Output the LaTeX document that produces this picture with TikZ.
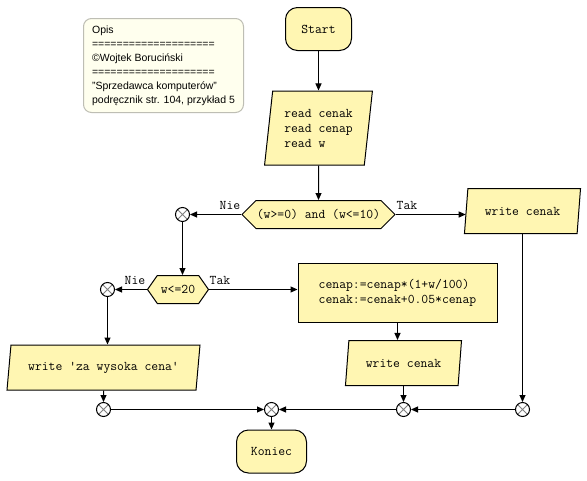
\documentclass[tikz,border=0pt]{standalone}
\usepackage{fontspec}
\setmainfont{Liberation Sans}
\usetikzlibrary{shapes.geometric}
\usetikzlibrary{shapes.symbols}
\usetikzlibrary{arrows.meta}

\definecolor{boxfill}{RGB}{255,246,178}
\definecolor{notefill}{RGB}{255,255,238}
\definecolor{notedraw}{RGB}{190,190,180}

\begin{document}
\begin{tikzpicture}[x=1pt,y=-1pt,line width=1pt,font=\ttfamily\fontsize{13.3}{15}\selectfont,
  >={Triangle[length=7pt,width=6pt]},
  term/.style={draw,fill=boxfill,rounded corners=12pt,minimum width=66pt,minimum height=43pt,inner sep=0pt},
  io/.style={draw,fill=boxfill,trapezium,trapezium left angle=74,trapezium right angle=106,trapezium stretches=true,minimum height=45pt,inner sep=0pt},
  cond/.style={draw,fill=boxfill,signal,signal to=west and east,minimum height=28pt,inner sep=0pt},
  proc/.style={draw,fill=boxfill,minimum width=199pt,minimum height=59pt,inner sep=0pt,align=left},
  junc/.style={draw,fill=white,circle,minimum size=14pt,inner sep=0pt,
    path picture={\draw[gray,line width=0.8pt] (path picture bounding box.north west) -- (path picture bounding box.south east)
      (path picture bounding box.north east) -- (path picture bounding box.south west);}}]

\path[fill=white] (0,0) rectangle (587,480);

% note
\node[draw=notedraw,fill=notefill,rounded corners=8pt,anchor=north west,minimum width=160pt,minimum height=94pt,
  inner sep=3pt,align=left,font=\rmfamily\fontsize{10.5}{14}\selectfont] (opis) at (83,18)
  {Opis\\====================\\©Wojtek Boruciński\\====================\\"Sprzedawca komputerów"\\podręcznik str. 104, przykład 5};

% start and input
\node[term] (start) at (318.5,29) {Start};
\node[io,minimum width=108pt,minimum height=74pt,trapezium left angle=81,trapezium right angle=99,align=left] (read) at (318.5,128)
  {read cenak\\read cenap\\read w};

% first test
\node[cond,minimum width=153pt] (test1) at (318.5,214.5) {(w>=0) and (w<=10)};
\node[io,minimum width=117pt] (out1) at (522.5,211) {write cenak};
\node[junc] (j1) at (182.5,214.5) {};
\node (n1) at (230,205) {Nie};
\node (t1) at (407,205) {Tak};

% second test
\node[cond,minimum width=61pt,signal pointer angle=110] (test2) at (178,289.5) {w<=20};
\node[junc] (j2) at (107.5,289.5) {};
\node (n2) at (135,280) {Nie};
\node (t2) at (220,280) {Tak};
\node[proc] (calc) at (397.5,292.5) {cenap:=cenap*(1+w/100)\\cenak:=cenak+0.05*cenap};
\node[io,minimum width=117pt] (out2) at (403.5,363) {write cenak};
\node[io,minimum width=193pt] (out3) at (103.5,367.5) {write 'za wysoka cena'};

% joins and end
\node[junc] (j3) at (103.5,409.5) {};
\node[junc] (j0) at (271.5,409.5) {};
\node[junc] (j4) at (403.5,409.5) {};
\node[junc] (j5) at (522.5,409.5) {};
\node[term,minimum width=70pt] (stop) at (271.5,451.5) {Koniec};

% flow
\draw[->] (start) -- (read);
\draw[->] (read) -- (test1);
\draw[->] (test1.west) -- (j1);
\draw[->] (test1.east) -- (test1.east -| out1.west);
\draw[->] (j1) -- (j1 |- test2.north);
\draw[->] (test2.west) -- (j2);
\draw[->] (test2.east) -- (test2.east -| calc.west);
\draw[->] (j2) -- (j2 |- out3.north);
\draw[->] (out3) -- (j3);
\draw[->] (j3) -- (j0);
\draw[->] (calc.south) -- (calc.south |- out2.north);
\draw[->] (out2) -- (j4);
\draw[->] (out1) -- (j5);
\draw[->] (j5) -- (j4);
\draw[->] (j4) -- (j0);
\draw[->] (j0) -- (stop);

\end{tikzpicture}
\end{document}
